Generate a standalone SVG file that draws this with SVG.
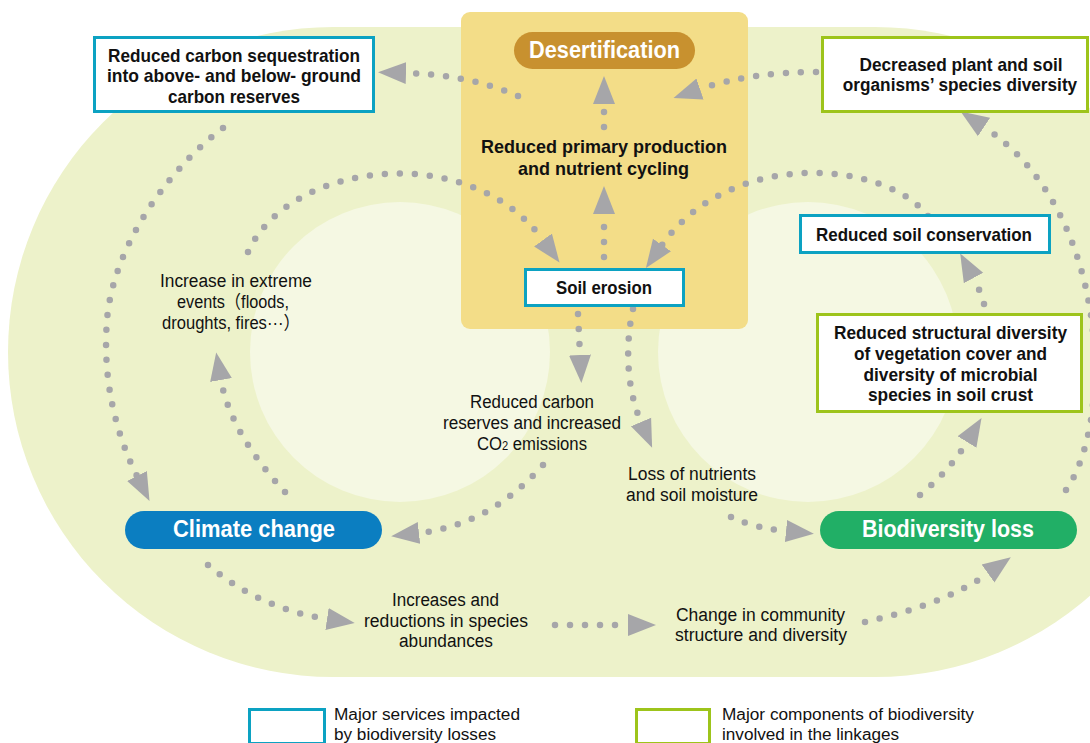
<svg xmlns="http://www.w3.org/2000/svg" width="1090" height="743" viewBox="0 0 1090 743">
<defs>
<style>
.t{font-family:"Liberation Sans Narrow","Liberation Sans",Arial,"Noto Sans CJK JP",sans-serif;text-anchor:middle;fill:#111}
.b{font-weight:bold;font-size:19px}
.p{font-weight:normal;font-size:18px}
.pill{font-weight:bold;font-size:24px;fill:#fff}
.lg{font-weight:normal;font-size:16px;text-anchor:start}
.bc{fill:#fff;stroke:#0CA2C2;stroke-width:3}
.bg{fill:#fff;stroke:#9DC41B;stroke-width:3}
.dot{fill:none;stroke:#A6A6A9;stroke-width:6.5;stroke-linecap:round;stroke-dasharray:0 15}
.mk{fill:#A6A6A9}
</style>
<marker id="ah" markerUnits="userSpaceOnUse" viewBox="0 -12 30 24" refX="0" refY="0" markerWidth="30" markerHeight="24" orient="auto">
<path class="mk" d="M0,-11 L28,0 L0,11 Z"/>
</marker>
</defs>
<g id="background">
<path d="M333,27 H875 A325,325 0 0 1 875,677 H333 A325,325 0 0 1 333,27 Z" fill="#EDF2CA"/>
<circle cx="400" cy="352" r="150" fill="#F5F8E3"/>
<circle cx="808" cy="352" r="150" fill="#F5F8E3"/>
<rect x="461" y="12" width="287" height="317" rx="9" fill="#F3DD88"/>
</g>
<g id="connectors" class="dot" marker-end="url(#ah)">
<path d="M518,96 Q470,75 406,73"/>
<path d="M816,72 Q750,72 700,89"/>
<path d="M604,257 L604,214"/>
<path d="M604,127 L604,104"/>
<path d="M248,252 C290,160 470,140 543,240"/>
<path d="M928,216 C885,160 730,148 662,245"/>
<path d="M578,314 L580,355"/>
<path d="M633,309 C626,340 625,385 641,422"/>
<path d="M543,465 Q490,525 419,533"/>
<path d="M731,517 Q755,528 786,531"/>
<path d="M920,495 Q950,470 967,442"/>
<path d="M984,304 Q980,290 973.5,278"/>
<path d="M1066,490 C1115,420 1110,210 984,127"/>
<path d="M223,128 C180,160 120,230 108,310 C100,380 118,438 137,476"/>
<path d="M285,492 C255,460 228,420 221,380"/>
<path d="M208,565 C240,592 280,612 327,619"/>
<path d="M555,625 L628,625"/>
<path d="M865,622 C910,612 955,597 988,573.5"/>
</g>
<g id="desertification">
<rect x="514" y="32" width="181" height="37" rx="18.5" fill="#C8912F"/>
<text class="t pill" x="604.5" y="58" textLength="151" lengthAdjust="spacingAndGlyphs">Desertification</text>
</g>
<g id="primary-production">
<text class="t b" x="604" y="153" textLength="246" lengthAdjust="spacingAndGlyphs">Reduced primary production</text>
<text class="t b" x="603.5" y="175" textLength="171" lengthAdjust="spacingAndGlyphs">and nutrient cycling</text>
</g>
<g id="carbon-sequestration">
<rect class="bc" x="94.5" y="37.5" width="279" height="74"/>
<text class="t b" x="234" y="61.5" textLength="252" lengthAdjust="spacingAndGlyphs">Reduced carbon sequestration</text>
<text class="t b" x="234" y="82" textLength="254" lengthAdjust="spacingAndGlyphs">into above- and below- ground</text>
<text class="t b" x="234" y="102.5" textLength="132" lengthAdjust="spacingAndGlyphs">carbon reserves</text>
</g>
<g id="species-diversity">
<rect class="bg" x="822.5" y="37.5" width="265" height="74"/>
<text class="t b" x="961" y="70.5" textLength="203" lengthAdjust="spacingAndGlyphs">Decreased plant and soil</text>
<text class="t b" transform="translate(960,91) scale(0.84,1)" x="0" y="0" textLength="279" lengthAdjust="spacingAndGlyphs">organisms’ species diversity</text>
</g>
<g id="soil-erosion">
<rect class="bc" x="525.5" y="269.5" width="158" height="36"/>
<text class="t b" x="604" y="294" textLength="96" lengthAdjust="spacingAndGlyphs">Soil erosion</text>
</g>
<g id="soil-conservation">
<rect class="bc" x="800.5" y="215.5" width="249" height="37"/>
<text class="t b" x="924" y="241" textLength="216" lengthAdjust="spacingAndGlyphs">Reduced soil conservation</text>
</g>
<g id="structural-diversity">
<rect class="bg" x="817.5" y="314.5" width="264" height="97"/>
<text class="t b" x="950.5" y="339" textLength="233" lengthAdjust="spacingAndGlyphs">Reduced structural diversity</text>
<text class="t b" x="950.5" y="360" textLength="193" lengthAdjust="spacingAndGlyphs">of vegetation cover and</text>
<text class="t b" x="950.5" y="381" textLength="174" lengthAdjust="spacingAndGlyphs">diversity of microbial</text>
<text class="t b" x="950.5" y="401" textLength="165" lengthAdjust="spacingAndGlyphs">species in soil crust</text>
</g>
<g id="climate-change">
<rect x="125" y="511" width="257" height="38" rx="19" fill="#0B7EC1"/>
<text class="t pill" x="254" y="537" textLength="162" lengthAdjust="spacingAndGlyphs">Climate change</text>
</g>
<g id="biodiversity-loss">
<rect x="820" y="511" width="257" height="38" rx="19" fill="#21AF66"/>
<text class="t pill" x="948" y="537" textLength="172" lengthAdjust="spacingAndGlyphs">Biodiversity loss</text>
</g>
<g id="extreme-events">
<text class="t p" x="236" y="287" textLength="152" lengthAdjust="spacingAndGlyphs">Increase in extreme</text>
<text class="t p" x="233" y="308" textLength="112" lengthAdjust="spacingAndGlyphs">events（floods,</text>
<text class="t p" x="231" y="329" textLength="138" lengthAdjust="spacingAndGlyphs">droughts, fires···）</text>
</g>
<g id="carbon-reserves">
<text class="t p" x="532" y="408" textLength="124" lengthAdjust="spacingAndGlyphs">Reduced carbon</text>
<text class="t p" x="532" y="429" textLength="178" lengthAdjust="spacingAndGlyphs">reserves and increased</text>
<text class="t p" x="532" y="450" textLength="110" lengthAdjust="spacingAndGlyphs">CO<tspan font-size="12">2</tspan> emissions</text>
</g>
<g id="nutrients">
<text class="t p" x="692" y="480" textLength="128" lengthAdjust="spacingAndGlyphs">Loss of nutrients</text>
<text class="t p" x="692" y="501" textLength="132" lengthAdjust="spacingAndGlyphs">and soil moisture</text>
</g>
<g id="abundances">
<text class="t p" x="445.5" y="606" textLength="107" lengthAdjust="spacingAndGlyphs">Increases and</text>
<text class="t p" x="446" y="627" textLength="164" lengthAdjust="spacingAndGlyphs">reductions in species</text>
<text class="t p" x="446" y="647" textLength="94" lengthAdjust="spacingAndGlyphs">abundances</text>
</g>
<g id="community">
<text class="t p" x="760.5" y="621" textLength="169" lengthAdjust="spacingAndGlyphs">Change in community</text>
<text class="t p" x="761" y="641" textLength="172" lengthAdjust="spacingAndGlyphs">structure and diversity</text>
</g>
<g id="legend">
<rect class="bc" x="249.5" y="709.5" width="75" height="34"/>
<text class="t lg" x="334" y="720" textLength="186" lengthAdjust="spacingAndGlyphs">Major services impacted</text>
<text class="t lg" x="334" y="740" textLength="162" lengthAdjust="spacingAndGlyphs">by biodiversity losses</text>
<rect class="bg" x="636.5" y="709.5" width="73" height="34"/>
<text class="t lg" x="722" y="720" textLength="252" lengthAdjust="spacingAndGlyphs">Major components of biodiversity</text>
<text class="t lg" x="722" y="740" textLength="177" lengthAdjust="spacingAndGlyphs">involved in the linkages</text>
</g>
</svg>
